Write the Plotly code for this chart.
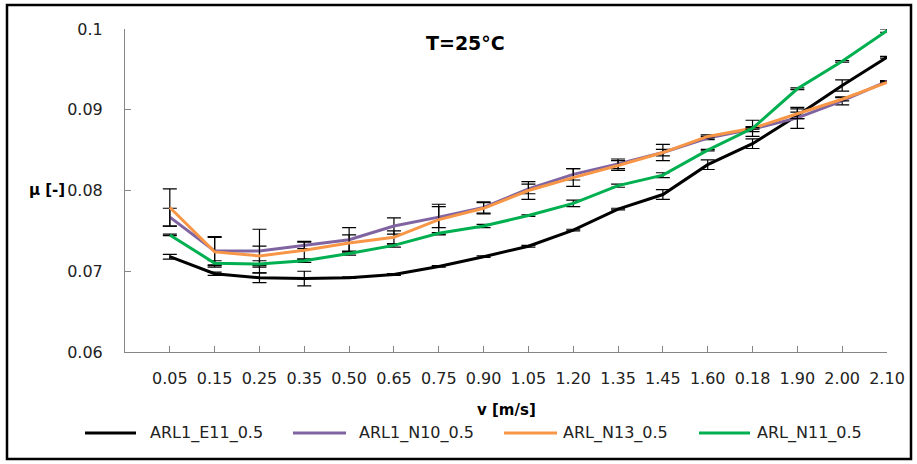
import plotly.graph_objects as go

categories = ["0.05", "0.15", "0.25", "0.35", "0.50", "0.65", "0.75", "0.90", "1.05",
              "1.20", "1.35", "1.45", "1.60", "0.18", "1.90", "2.00", "2.10"]

series_names = ["ARL1_E11_0.5", "ARL1_N10_0.5", "ARL_N13_0.5", "ARL_N11_0.5"]
series_colors = ["#000000", "#8064A2", "#F79646", "#00B050"]

e11 = [0.0718, 0.0697, 0.0692, 0.0691, 0.0692, 0.0696, 0.0706, 0.0718, 0.0731,
       0.0751, 0.0777, 0.0795, 0.0832, 0.0858, 0.0893, 0.0930, 0.0965]
n10 = [0.0767, 0.0725, 0.0725, 0.0732, 0.0739, 0.0756, 0.0767, 0.0779, 0.0802,
       0.0820, 0.0833, 0.0847, 0.0865, 0.0876, 0.0890, 0.0911, 0.0935]
n13 = [0.0779, 0.0724, 0.0719, 0.0726, 0.0735, 0.0742, 0.0764, 0.0778, 0.0800,
       0.0816, 0.0831, 0.0847, 0.0867, 0.0877, 0.0895, 0.0913, 0.0934]
n11 = [0.0745, 0.0710, 0.0709, 0.0713, 0.0722, 0.0732, 0.0747, 0.0756, 0.0769,
       0.0784, 0.0806, 0.0819, 0.0850, 0.0877, 0.0926, 0.0960, 0.0998]

e11_err = [0.0003, 0.0002, 0.0006, 0.0009, 0.0001, 0.0001, 0.0001, 0.0001, 0.0001,
           0.0001, 0.0001, 0.0006, 0.0006, 0.0006, 0.0004, 0.0007, 0.0001]
n10_err = [0.0011, 0.0017, 0.0027, 0.0004, 0.0015, 0.0010, 0.0013, 0.0007, 0.0006,
           0.0007, 0.0006, 0.0004, 0.0002, 0.0003, 0.0013, 0.0005, 0.0001]
n13_err = [0.0023, 0.0019, 0.0012, 0.0011, 0.0010, 0.0008, 0.0019, 0.0007, 0.0011,
           0.0011, 0.0006, 0.0010, 0.0002, 0.0010, 0.0006, 0.0002, 0.0001]
n11_err = [0.0001, 0.0003, 0.0004, 0.0002, 0.0002, 0.0002, 0.0001, 0.0002, 0.0001,
           0.0004, 0.0002, 0.0003, 0.0001, 0.0001, 0.0001, 0.0001, 0.0002]

y_tick_vals = [0.06, 0.07, 0.08, 0.09, 0.1]
y_tick_text = ["0.06", "0.07", "0.08", "0.09", "0.1"]

title_text = "T=25°C"
x_title = "v [m/s]"
y_title = "μ [-]"

FONT = "DejaVu Sans, sans-serif"

fig = go.Figure()
for name, color, vals, errs in zip(series_names, series_colors,
                                    [e11, n10, n13, n11],
                                    [e11_err, n10_err, n13_err, n11_err]):
    fig.add_trace(go.Scatter(
        x=list(range(len(categories))), y=vals, name=name, mode="lines",
        line=dict(color=color, width=3),
        error_y=dict(type="data", array=errs, visible=True, color="#000000",
                     thickness=1.2, width=7),
        showlegend=False,
    ))

L, R, T, B = 125, 30, 29, 112
W, H = 917, 464
pw, ph = W - L - R, H - T - B

def px_x(x):
    return (x - L) / pw

def px_y(y):
    return (H - B - y) / ph

shapes = [dict(type="rect", xref="paper", yref="paper",
               x0=px_x(7), x1=px_x(911), y0=px_y(459), y1=px_y(5),
               line=dict(color="#000000", width=2.5), fillcolor="rgba(0,0,0,0)",
               layer="below")]
annotations = [
    dict(text="<b>%s</b>" % title_text, xref="paper", yref="paper",
         x=px_x(465), y=px_y(43), xanchor="center", yanchor="middle", showarrow=False,
         font=dict(family=FONT, size=19, color="#000000")),
    dict(text="<b>%s</b>" % x_title, xref="paper", yref="paper",
         x=px_x(506), y=px_y(410), xanchor="center", yanchor="middle", showarrow=False,
         font=dict(family=FONT, size=15, color="#000000")),
    dict(text="<b>%s</b>" % y_title, xref="paper", yref="paper",
         x=px_x(47), y=px_y(190), xanchor="center", yanchor="middle", showarrow=False,
         font=dict(family=FONT, size=15, color="#000000")),
]

legend_line_x = [(85, 136), (293, 346), (504, 557), (699, 750)]
legend_text_x = [148, 357, 561, 755]
for (x0, x1), tx, name, color in zip(legend_line_x, legend_text_x, series_names, series_colors):
    shapes.append(dict(type="line", xref="paper", yref="paper",
                       x0=px_x(x0), x1=px_x(x1), y0=px_y(433), y1=px_y(433),
                       line=dict(color=color, width=3)))
    annotations.append(dict(text=name, xref="paper", yref="paper",
                            x=px_x(tx), y=px_y(433), xanchor="left", yanchor="middle",
                            showarrow=False,
                            font=dict(family=FONT, size=16, color="#222222")))

fig.update_layout(
    width=W, height=H,
    margin=dict(l=L, r=R, t=T, b=B, pad=0),
    paper_bgcolor="white", plot_bgcolor="white",
    font=dict(family=FONT, size=16, color="#222222"),
    shapes=shapes, annotations=annotations,
    xaxis=dict(range=[-1, 16], tickmode="array", tickvals=list(range(len(categories))),
               ticktext=categories, showgrid=False, zeroline=False,
               showline=True, linecolor="#868686", linewidth=1,
               ticks="inside", ticklen=6, tickcolor="#868686",
               ticklabelstandoff=12, tickfont=dict(size=16, color="#222222")),
    yaxis=dict(range=[0.06, 0.1], tickmode="array", tickvals=y_tick_vals,
               ticktext=y_tick_text, showgrid=False, zeroline=False,
               showline=True, linecolor="#868686", linewidth=1,
               ticks="inside", ticklen=6, tickcolor="#868686",
               ticklabelstandoff=18, tickfont=dict(size=16, color="#222222")),
)

fig.write_html("out.html")
